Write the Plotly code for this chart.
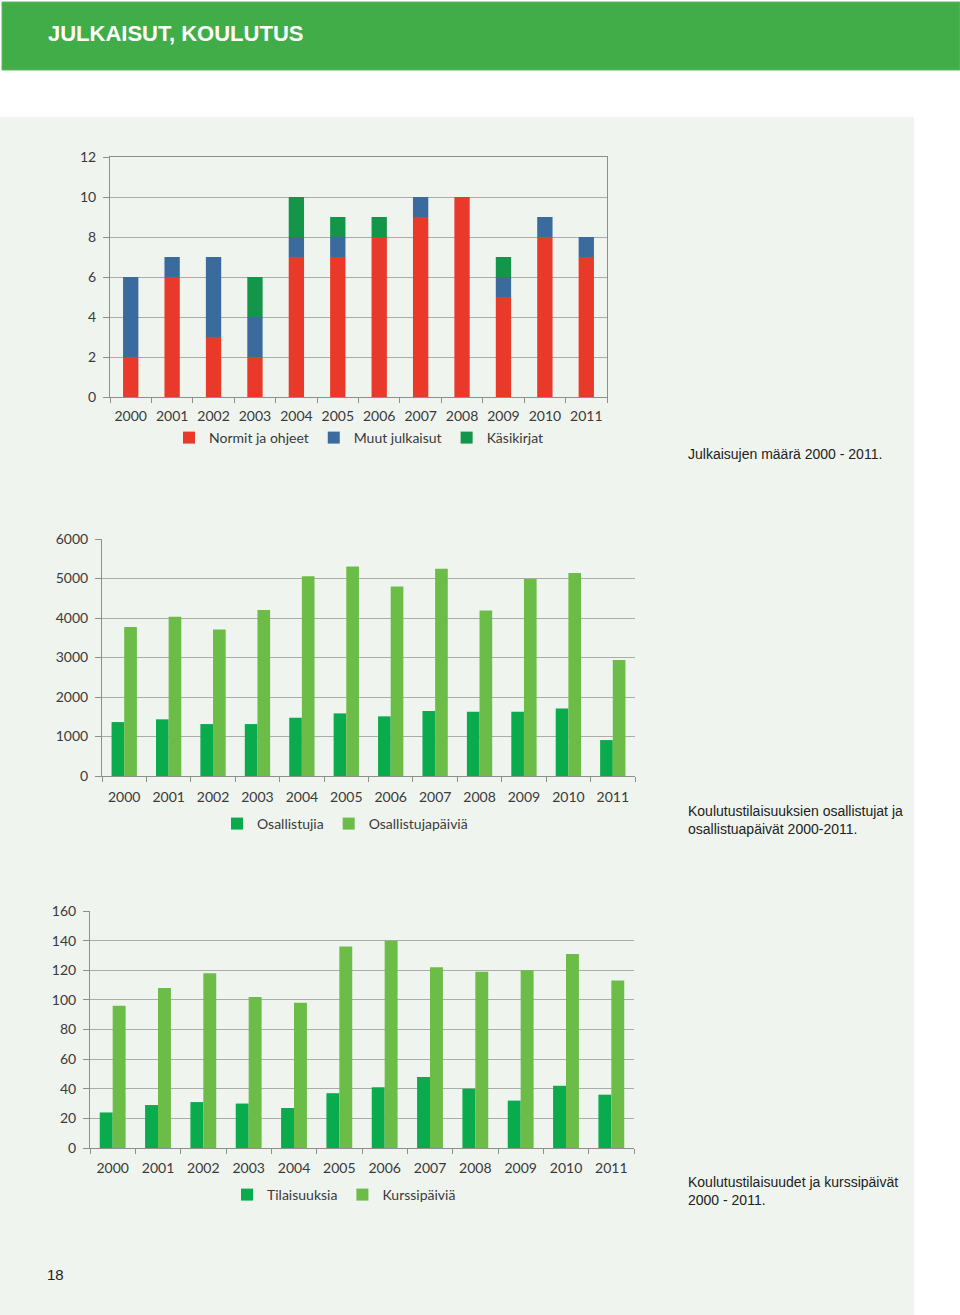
import plotly.graph_objects as go
import numpy as np

W, H = 960, 1315

years = ["2000", "2001", "2002", "2003", "2004", "2005", "2006", "2007", "2008", "2009", "2010", "2011"]

# Chart 1: Julkaisujen määrä
normit = [2, 6, 3, 2, 7, 7, 8, 9, 10, 5, 8, 7]
muut = [4, 1, 4, 2, 1, 1, 0, 1, 0, 1, 1, 1]
kasikirjat = [0, 0, 0, 2, 2, 1, 1, 0, 0, 1, 0, 0]

# Chart 2: Osallistujat ja osallistujapäivät
osallistujia = [1365, 1435, 1315, 1315, 1475, 1585, 1510, 1645, 1625, 1625, 1710, 910]
osallistujapaivia = [3775, 4030, 3710, 4205, 5060, 5305, 4800, 5245, 4190, 4990, 5140, 2935]

# Chart 3: Tilaisuudet ja kurssipäivät
tilaisuuksia = [24, 29, 31, 30, 27, 37, 41, 48, 40, 32, 42, 36]
kurssipaivia = [96, 108, 118, 102, 98, 136, 140, 122, 119, 120, 131, 113]

C_RED = "#e8392a"
C_BLUE = "#3a6b9c"
C_DGREEN = "#13964a"
C_G1 = "#0aab4c"
C_G2 = "#6cbd47"
GRID = "#a9ada8"
AXIS = "#8c8f8b"
TICKFONT = dict(family="Lato, Open Sans, sans-serif", size=14, color="#3a3a3a")
CAPFONT = dict(family="Liberation Sans, Arial, sans-serif", size=14, color="#222222")


def px_x(x):
    return x / W


def px_y(y):
    return 1 - y / H


fig = go.Figure()

# ---- chart 1: stacked via base, same offsetgroup
n = np.array(normit)
m = np.array(muut)
k = np.array(kasikirjat)
fig.add_trace(go.Bar(x=years, y=n, name="Normit ja ohjeet", marker_color=C_RED,
                     offsetgroup="pub", width=0.37, xaxis="x", yaxis="y", legend="legend"))
fig.add_trace(go.Bar(x=years, y=m, base=n, name="Muut julkaisut", marker_color=C_BLUE,
                     offsetgroup="pub", width=0.37, xaxis="x", yaxis="y", legend="legend"))
fig.add_trace(go.Bar(x=years, y=k, base=n + m, name="Käsikirjat", marker_color=C_DGREEN,
                     offsetgroup="pub", width=0.37, xaxis="x", yaxis="y", legend="legend"))

# ---- chart 2
fig.add_trace(go.Bar(x=years, y=osallistujia, name="Osallistujia", marker_color=C_G1,
                     xaxis="x2", yaxis="y2", legend="legend2"))
fig.add_trace(go.Bar(x=years, y=osallistujapaivia, name="Osallistujapäiviä", marker_color=C_G2,
                     xaxis="x2", yaxis="y2", legend="legend2"))

# ---- chart 3
fig.add_trace(go.Bar(x=years, y=tilaisuuksia, name="Tilaisuuksia", marker_color=C_G1,
                     xaxis="x3", yaxis="y3", legend="legend3"))
fig.add_trace(go.Bar(x=years, y=kurssipaivia, name="Kurssipäiviä", marker_color=C_G2,
                     xaxis="x3", yaxis="y3", legend="legend3"))

for tr in fig.data:
    tr.marker.line.width = 0


def xaxis_cfg(x0, x1, anchor, mirror=False, standoff=6):
    return dict(domain=[px_x(x0), px_x(x1)], anchor=anchor, type="category",
                showline=True, linecolor=AXIS, linewidth=1, mirror=mirror,
                ticks="outside", ticklen=5, tickcolor=AXIS, tickson="boundaries",
                tickangle=0, showgrid=False, tickfont=TICKFONT, fixedrange=True,
                ticklabelstandoff=standoff, automargin=False)


def yaxis_cfg(y0, y1, anchor, rng, dtick, mirror=False):
    return dict(domain=[px_y(y1), px_y(y0)], anchor=anchor, range=rng, dtick=dtick,
                showline=True, linecolor=AXIS, linewidth=1, mirror=mirror,
                ticks="outside", ticklen=6, tickcolor=AXIS,
                showgrid=True, gridcolor=GRID, gridwidth=1, zeroline=False,
                tickfont=TICKFONT, ticklabelstandoff=4, fixedrange=True,
                automargin=False)


legend_common = dict(orientation="h", xanchor="center", yanchor="middle",
                     bgcolor="rgba(0,0,0,0)", font=TICKFONT, itemwidth=30,
                     traceorder="normal", tracegroupgap=0, itemclick=False)

fig.update_layout(
    width=W, height=H,
    margin=dict(l=0, r=0, t=0, b=0, pad=0, autoexpand=False),
    paper_bgcolor="white",
    plot_bgcolor="rgba(0,0,0,0)",
    barmode="group", bargap=0.43, bargroupgap=0,
    showlegend=True,
    xaxis=xaxis_cfg(110, 607, "y", mirror=True, standoff=6),
    yaxis=yaxis_cfg(157, 397, "x", [0, 12], 2, mirror=True),
    xaxis2=xaxis_cfg(102, 635, "y2", standoff=8),
    yaxis2=yaxis_cfg(539, 776, "x2", [0, 6000], 1000),
    xaxis3=xaxis_cfg(90, 634, "y3", standoff=7),
    yaxis3=yaxis_cfg(911, 1148, "x3", [0, 160], 20),
    legend=dict(legend_common, x=px_x(359), y=px_y(438)),
    legend2=dict(legend_common, x=px_x(345), y=px_y(824)),
    legend3=dict(legend_common, x=px_x(344), y=px_y(1195)),
)

# background shapes
fig.add_shape(type="rect", xref="paper", yref="paper", x0=0, x1=px_x(914), y0=0, y1=px_y(117),
              fillcolor="#eff4ee", line_width=0, layer="below")
fig.add_shape(type="rect", xref="paper", yref="paper", x0=px_x(2), x1=1, y0=px_y(70), y1=px_y(2),
              fillcolor="#41ad49", line=dict(color="#5fb865", width=1), layer="below")

# texts
fig.add_annotation(text="<b>JULKAISUT, KOULUTUS</b>", xref="paper", yref="paper",
                   x=px_x(46), y=px_y(34), xanchor="left", yanchor="middle", showarrow=False,
                   font=dict(family="Liberation Sans Narrow, Liberation Sans, Arial", size=22, color="white"))
fig.add_annotation(text="Julkaisujen määrä 2000 - 2011.", xref="paper", yref="paper",
                   x=px_x(686), y=px_y(454), xanchor="left", yanchor="middle", showarrow=False,
                   font=CAPFONT)
fig.add_annotation(text="Koulutustilaisuuksien osallistujat ja<br>osallistuapäivät 2000-2011.",
                   xref="paper", yref="paper", x=px_x(686), y=px_y(820), xanchor="left",
                   yanchor="middle", align="left", showarrow=False, font=CAPFONT)
fig.add_annotation(text="Koulutustilaisuudet ja kurssipäivät<br>2000 - 2011.",
                   xref="paper", yref="paper", x=px_x(686), y=px_y(1191), xanchor="left",
                   yanchor="middle", align="left", showarrow=False, font=CAPFONT)
fig.add_annotation(text="18", xref="paper", yref="paper", x=px_x(45), y=px_y(1274),
                   xanchor="left", yanchor="middle", showarrow=False,
                   font=dict(family="Liberation Sans Narrow, Liberation Sans, Arial", size=15, color="#222222"))

fig.write_html(
    "out.html",
    config={"displayModeBar": False},
    post_script=(
        "document.documentElement.style.margin='0';"
        "document.body.style.margin='0';document.body.style.overflow='hidden';"
        "var d=document.getElementById('{plot_id}');"
        "d.style.position='fixed';d.style.top='0px';d.style.left='0px';"
    ),
)
